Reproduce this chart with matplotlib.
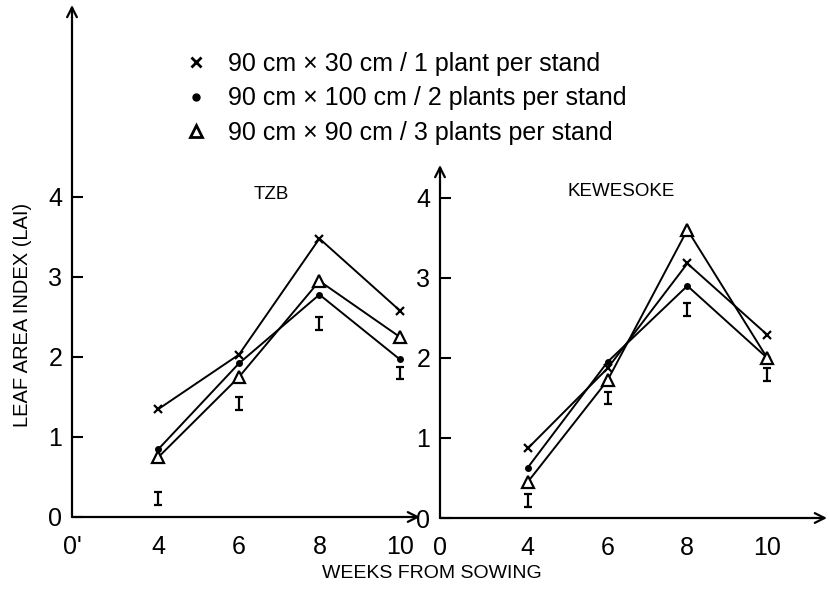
import matplotlib.pyplot as plt
from matplotlib.lines import Line2D

plt.rcParams['font.family'] = ['Liberation Sans', 'DejaVu Sans']

weeks = [4, 6, 8, 10]
series_labels = ['90 cm \u00d7 30 cm / 1 plant per stand',
                 '90 cm \u00d7 100 cm / 2 plants per stand',
                 '90 cm \u00d7 90 cm / 3 plants per stand']

# leaf area index, TZB
tzb_cross = [1.35, 2.03, 3.48, 2.58]
tzb_dot = [0.85, 1.92, 2.78, 1.97]
tzb_tri = [0.75, 1.75, 2.95, 2.25]
tzb_lsd = [0.23, 1.42, 2.42, 1.8]

# leaf area index, KEWESOKE
kew_cross = [0.87, 1.87, 3.18, 2.29]
kew_dot = [0.63, 1.95, 2.9, 2.0]
kew_tri = [0.45, 1.72, 3.6, 2.0]
kew_lsd = [0.22, 1.5, 2.6, 1.79]

W, H = 830, 597
fig = plt.figure(figsize=(8.3, 5.97), dpi=100)

# axes placed in pixels (broken x axis starts just left of week 4)
ax1 = fig.add_axes([72 / W, (H - 517) / H, (420 - 72) / W, (517 - 5) / H])
ax2 = fig.add_axes([440 / W, (H - 518) / H, (827 - 440) / W, (518 - 165) / H])
ax1.set_xlim(1.85, 10.5)
ax1.set_ylim(0, 6.4)
ax2.set_xlim(1.8, 11.5)
ax2.set_ylim(0, 4.41)


def draw_panel(ax, cross, dot, tri, lsd, title, tx, ty, x0label):
    ax.plot(weeks, cross, color='black', lw=1.4, marker='x', ms=6, mew=1.6)
    ax.plot(weeks, dot, color='black', lw=1.4, marker='o', ms=4)
    ax.plot(weeks, tri, color='black', lw=1.4, marker='^', ms=8,
            mfc='white', mew=1.6)
    ax.errorbar(weeks, lsd, yerr=0.08, fmt='none', ecolor='black',
                elinewidth=1.6, capsize=3, capthick=1.6)
    ax.text(tx, ty, title, fontsize=13.5, ha='center', va='center')
    for s in ax.spines.values():
        s.set_visible(False)
    ax.annotate('', xy=(1, 0), xytext=(0, 0), xycoords='axes fraction',
                arrowprops=dict(arrowstyle='->,head_length=0.7,head_width=0.35',
                                lw=1.6, color='black', shrinkA=0, shrinkB=0))
    ax.annotate('', xy=(0, 1), xytext=(0, 0), xycoords='axes fraction',
                arrowprops=dict(arrowstyle='->,head_length=0.7,head_width=0.35',
                                lw=1.6, color='black', shrinkA=0, shrinkB=0))
    ax.set_yticks([0, 1, 2, 3, 4])
    ax.set_yticklabels(['0', '1', '2', '3', '4'])
    ax.tick_params(axis='y', direction='in', length=8, width=1.5,
                   labelsize=18, pad=7)
    xt = [ax.get_xlim()[0]] + weeks
    ax.set_xticks(xt)
    ax.set_xticklabels([x0label] + [str(w) for w in weeks])
    ax.tick_params(axis='x', length=0, labelsize=18, pad=13)
    ax.set_facecolor('none')


draw_panel(ax1, tzb_cross, tzb_dot, tzb_tri, tzb_lsd, 'TZB', 6.8, 4.03, "0'")
draw_panel(ax2, kew_cross, kew_dot, kew_tri, kew_lsd, 'KEWESOKE', 6.35, 4.08, '0')

handles = [Line2D([], [], ls='none', marker='x', color='black', ms=7, mew=2),
           Line2D([], [], ls='none', marker='o', color='black', ms=5),
           Line2D([], [], ls='none', marker='^', color='black', ms=9,
                  mfc='white', mew=2)]
fig.legend(handles, series_labels, loc='upper left',
           bbox_to_anchor=(183 / W, 1 - 52 / H), frameon=False, fontsize=18,
           handlelength=1.0, handletextpad=0.8, labelspacing=0.42,
           borderpad=0, borderaxespad=0)

fig.text(23 / W, 1 - 315 / H, 'LEAF AREA INDEX (LAI)', rotation=90,
         fontsize=14.5, ha='center', va='center')
fig.text(432 / W, 1 - 573 / H, 'WEEKS FROM SOWING', fontsize=14,
         ha='center', va='center')

fig.savefig('out.png', dpi=100)
